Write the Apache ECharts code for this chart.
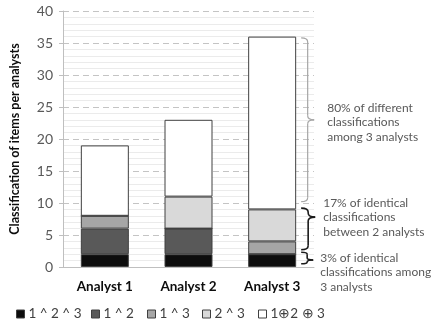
<!DOCTYPE html>
<html>
<head>
<meta charset="utf-8">
<script src="https://cdn.jsdelivr.net/npm/echarts@6/dist/echarts.min.js"></script>
<style>
  html, body { margin: 0; padding: 0; background: #fff; }
  #chart { width: 436px; height: 324px; }
</style>
</head>
<body>
<div id="chart"></div>
<script>
// Categories and stacked segment values (items per analyst)
const analysts = ['Analyst 1', 'Analyst 2', 'Analyst 3'];
const seriesNames = ['1 ^ 2 ^ 3', '1 ^ 2', '1 ^ 3', '2 ^ 3', '1\u22952 \u2295 3'];
const allThree = [2, 2, 2];
const oneAndTwo = [4, 4, 0];
const oneAndThree = [2, 0, 2];
const twoAndThree = [0, 5, 5];
const allDifferent = [11, 12, 27];
const yTicks = [0, 5, 10, 15, 20, 25, 30, 35, 40];

// Bracket annotations next to the third bar: [bottom, tip, top] in axis units, and notes
const braceRanges = [[10.2, 23.0, 35.8], [2.7, 7.8, 9.2], [0.5, 1.1, 2.3]];
const braceNotes = [
  ['80% of different', 'classifications', 'among 3 analysts'],
  ['17% of identical', 'classifications', 'between 2 analysts'],
  ['3% of identical', 'classifications among', '3 analysts']
];

const values = [allThree, oneAndTwo, oneAndThree, twoAndThree, allDifferent];
const fills = ['#0d0d0d', '#595959', '#a6a6a6', '#d9d9d9', '#ffffff'];
const FONT = 'Lato, "Open Sans", sans-serif';
const legendLefts = [16, 91, 147, 202, 258];

const chart = echarts.init(document.getElementById('chart'), null, { renderer: 'canvas' });

const option = {
  animation: false,
  backgroundColor: '#ffffff',
  grid: { left: 63, right: 122, top: 11, bottom: 57 },
  // one legend block per series so each entry sits in its own slot
  legend: seriesNames.map((n, i) => ({
    top: 307,
    left: legendLefts[i],
    padding: 0,
    icon: 'rect',
    itemWidth: 8,
    itemHeight: 8,
    itemStyle: { borderColor: '#404040', borderWidth: 1 },
    textStyle: { fontFamily: FONT, fontSize: 13.5, color: '#404040', padding: [0, 0, 0, -1] },
    data: [n]
  })),
  xAxis: {
    type: 'category',
    data: analysts,
    axisLine: { show: true, lineStyle: { color: '#bfbfbf', width: 1 } },
    axisTick: { show: false },
    axisLabel: { fontFamily: FONT, fontSize: 13.5, fontWeight: 'bold', color: '#0d0d0d', margin: 13 }
  },
  yAxis: {
    type: 'value',
    min: yTicks[0],
    max: yTicks[yTicks.length - 1],
    interval: 5,
    name: 'Classification of items per analysts',
    nameLocation: 'middle',
    nameGap: 42,
    nameTextStyle: { fontFamily: FONT, fontSize: 12.5, fontWeight: 'bold', color: '#0d0d0d' },
    axisLine: { show: true, lineStyle: { color: '#bfbfbf', width: 1 } },
    axisTick: { show: true, length: 4, lineStyle: { color: '#bfbfbf' } },
    axisLabel: { fontFamily: FONT, fontSize: 14, color: '#595959', margin: 10 },
    splitLine: { show: true, lineStyle: { color: '#c4c4c4', type: [6, 4], width: 1 } },
    minorTick: { show: false, splitNumber: 5 },
    minorSplitLine: { show: true, lineStyle: { color: '#ebebeb', width: 1 } }
  },
  series: seriesNames.map((name, i) => ({
    name: name,
    type: 'bar',
    stack: 'items',
    barWidth: 48,
    data: values[i],
    itemStyle: { color: fills[i], borderColor: '#404040', borderWidth: 1 },
    emphasis: { disabled: true }
  }))
};

chart.setOption(option);

// Curly bracket "}" built from straight segments and quadratic curves
function braceParts(x0, yTop, yTip, yBot, w, style) {
  const xm = x0 + w * 0.5;
  const xt = x0 + w;
  const r = Math.max(1.5, Math.min(4, (yTip - yTop) / 2, (yBot - yTip) / 2));
  const curve = (x1, y1, cx, cy, x2, y2) => ({
    type: 'bezierCurve', silent: true, style: style,
    shape: { x1: x1, y1: y1, cpx1: cx, cpy1: cy, x2: x2, y2: y2 }
  });
  const line = (x1, y1, x2, y2) => ({
    type: 'line', silent: true, style: style,
    shape: { x1: x1, y1: y1, x2: x2, y2: y2 }
  });
  return [
    curve(x0, yTop, xm, yTop, xm, yTop + r),
    line(xm, yTop + r, xm, yTip - r),
    curve(xm, yTip - r, xm, yTip, xt, yTip),
    curve(xt, yTip, xm, yTip, xm, yTip + r),
    line(xm, yTip + r, xm, yBot - r),
    curve(xm, yBot - r, xm, yBot, x0, yBot)
  ];
}

const barRight = chart.convertToPixel({ xAxisIndex: 0 }, analysts[2]) + 48 / 2;
const braceColors = ['#a6a6a6', '#1a1a1a', '#1a1a1a'];
const braceWidths = [13, 14, 12];
const firstLineOffset = [-12, -14, -2];
const textShift = [13, 8, 7];
const lineH = 14.5;
let elements = [];
braceRanges.forEach((rg, i) => {
  const yBot = chart.convertToPixel({ yAxisIndex: 0 }, rg[0]);
  const yTip = chart.convertToPixel({ yAxisIndex: 0 }, rg[1]);
  const yTop = chart.convertToPixel({ yAxisIndex: 0 }, rg[2]);
  const x0 = barRight + 5;
  const style = { fill: null, stroke: braceColors[i], lineWidth: i === 0 ? 1.2 : 1.6 };
  elements = elements.concat(braceParts(x0, yTop, yTip, yBot, braceWidths[i], style));
  const tx = x0 + braceWidths[i] + textShift[i];
  braceNotes[i].forEach((text, k) => {
    elements.push({
      type: 'text',
      x: tx,
      y: yTip + firstLineOffset[i] + k * lineH,
      silent: true,
      style: {
        text: text,
        fontFamily: FONT,
        fontSize: 12,
        fill: '#595959',
        verticalAlign: 'middle',
        align: 'left'
      }
    });
  });
});
chart.setOption({ graphic: { elements: elements } });
</script>
</body>
</html>
